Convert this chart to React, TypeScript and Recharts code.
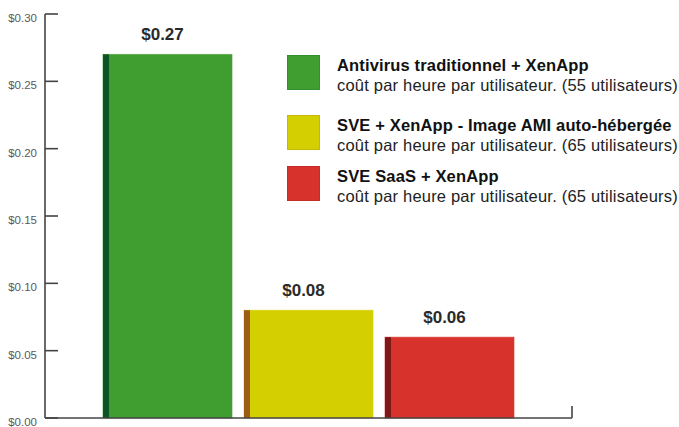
import React from 'react';
import { BarChart, Bar, XAxis, YAxis, Cell } from 'recharts';

const categories = [
  'Antivirus traditionnel + XenApp',
  'SVE + XenApp - Image AMI auto-hébergée',
  'SVE SaaS + XenApp',
];
const subtitles = [
  'coût par heure par utilisateur. (55 utilisateurs)',
  'coût par heure par utilisateur. (65 utilisateurs)',
  'coût par heure par utilisateur. (65 utilisateurs)',
];
const costs = [0.27, 0.08, 0.06];
const yTicks = [0, 0.05, 0.1, 0.15, 0.2, 0.25, 0.3];
const fillColors = ['#3f9e2f', '#d4cf00', '#d8322c'];
const edgeColors = ['#0b5527', '#9c5c12', '#7d1818'];

const data = categories.map((name, i) => ({ name, value: costs[i] }));

const FONT = '"Liberation Sans", Arial, Helvetica, sans-serif';
const AXIS_X = 45;
const AXIS_COLOR = '#444';

const YTick = (props: any) => {
  const { y, payload } = props;
  return (
    <g>
      <line x1={AXIS_X} x2={AXIS_X + 13} y1={y} y2={y} stroke={AXIS_COLOR} strokeWidth={1.6} />
      <text x={37} y={y + 8} textAnchor="end" fontSize={11.5} fill="#5a5a5a" fontFamily={FONT}>
        ${Number(payload.value).toFixed(2)}
      </text>
    </g>
  );
};

const BarShape = (props: any) => {
  const { x, y, width, height, index } = props;
  const edge = 6;
  return (
    <g>
      <rect x={x} y={y} width={width} height={height} fill={fillColors[index]} stroke={fillColors[index]} strokeOpacity={0.6} strokeWidth={1} />
      <rect x={x} y={y} width={edge} height={height} fill={edgeColors[index]} />
    </g>
  );
};

const BarLabel = (props: any) => {
  const { x, y, width, value } = props;
  return (
    <text x={x + width / 2 - 5} y={y - 14} textAnchor="middle" fontSize={17} fontWeight="bold" fill="#2a2a2a" fontFamily={FONT}>
      ${Number(value).toFixed(2)}
    </text>
  );
};

const LegendBox = () => (
  <div style={{ position: 'absolute', left: 287, top: 55, fontFamily: FONT, color: '#111' }}>
    {categories.map((c, i) => (
      <div key={c} style={{ display: 'flex', alignItems: 'flex-start', height: i === 0 ? 60 : 51 }}>
        <div style={{ width: 33, height: 35, background: fillColors[i], boxShadow: `inset 0 0 0 1px ${edgeColors[i]}33`, flexShrink: 0 }} />
        <div style={{ marginLeft: 17, marginTop: 0, lineHeight: '20px' }}>
          <div style={{ fontSize: 16.5, letterSpacing: 0.15, fontWeight: 'bold', whiteSpace: 'nowrap' }}>{c}</div>
          <div style={{ fontSize: 16.5, letterSpacing: 0.2, whiteSpace: 'nowrap', color: '#222' }}>{subtitles[i]}</div>
        </div>
      </div>
    ))}
  </div>
);

export default function App() {
  return (
    <div style={{ position: 'absolute', left: 0, top: 0, width: 679, height: 427, background: '#fff' }}>
      <BarChart width={679} height={427} data={data} margin={{ top: 14, right: 107, bottom: 0, left: 0 }}>
        <XAxis
          dataKey="name"
          tick={false}
          tickLine={false}
          height={9}
          axisLine={{ stroke: AXIS_COLOR, strokeWidth: 1.6 }}
          padding={{ left: 52, right: 52 }}
        />
        <YAxis
          width={45}
          domain={[0, 0.3]}
          ticks={yTicks}
          interval={0}
          tickLine={false}
          axisLine={{ stroke: AXIS_COLOR, strokeWidth: 1.6 }}
          tick={<YTick />}
        />
        <Bar dataKey="value" barSize={129} shape={<BarShape />} label={<BarLabel />} isAnimationActive={false}>
          {data.map((d, i) => (
            <Cell key={d.name} fill={fillColors[i]} />
          ))}
        </Bar>
      </BarChart>
      <svg width={679} height={427} style={{ position: 'absolute', left: 0, top: 0, pointerEvents: 'none' }}>
        <line x1={572} x2={572} y1={406} y2={418} stroke={AXIS_COLOR} strokeWidth={1.6} />
      </svg>
      <LegendBox />
    </div>
  );
}
